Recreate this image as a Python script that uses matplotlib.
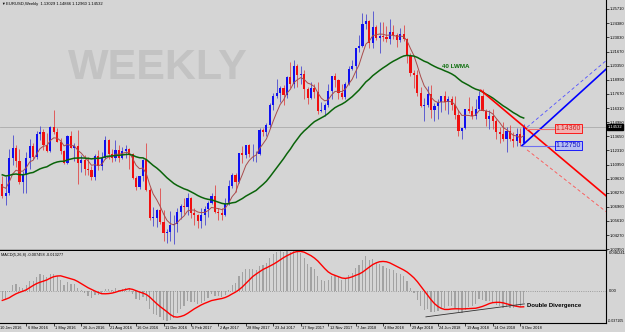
import numpy as np
import pandas as pd
import matplotlib
matplotlib.use('Agg')
import matplotlib.pyplot as plt
from matplotlib.transforms import blended_transform_factory

plt.rcParams['font.family'] = ['Liberation Sans', 'DejaVu Sans']

# EURUSD weekly bars, week closing 22 Jan 2016 ... 21 Dec 2018
# 40 earlier weekly closes (not drawn) so the indicators are warmed up
warmup_closes = [
    1.0808, 1.0873, 1.1198, 1.1199, 1.1448, 1.1015, 1.0987, 1.1110, 1.1265, 1.1350,
    1.1165, 1.1106, 1.1162, 1.0830, 1.0980, 1.0985, 1.0970, 1.1105, 1.1385, 1.1185,
    1.1150, 1.1340, 1.1295, 1.1195, 1.1210, 1.1360, 1.1350, 1.1015, 1.1005, 1.0740,
    1.0770, 1.0645, 1.0590, 1.0885, 1.0990, 1.0865, 1.0965, 1.0860, 1.0920, 1.0915]

closes = [
    # 2016
    1.0795, 1.0830, 1.1155, 1.1255, 1.1130, 1.0930, 1.1005, 1.1155, 1.1270, 1.1165,
    1.1390, 1.1400, 1.1285, 1.1225, 1.1455, 1.1405, 1.1310, 1.1220, 1.1115, 1.1365,
    1.1255, 1.1275, 1.1115, 1.1135, 1.1050, 1.1040, 1.0975, 1.1175, 1.1085, 1.1160,
    1.1325, 1.1200, 1.1155, 1.1235, 1.1155, 1.1225, 1.1240, 1.1200, 1.0970, 1.0880,
    1.0985, 1.1140, 1.0850, 1.0590, 1.0590, 1.0665, 1.0555, 1.0450, 1.0455, 1.0520,
    # 2017
    1.0530, 1.0645, 1.0705, 1.0695, 1.0780, 1.0640, 1.0615, 1.0560, 1.0620, 1.0670,
    1.0735, 1.0800, 1.0650, 1.0640, 1.0615, 1.0725, 1.0895, 1.0995, 1.0930, 1.1205,
    1.1185, 1.1280, 1.1195, 1.1195, 1.1195, 1.1425, 1.1400, 1.1470, 1.1665, 1.1750,
    1.1775, 1.1820, 1.1760, 1.1925, 1.1860, 1.2035, 1.1945, 1.1950, 1.1815, 1.1730,
    1.1820, 1.1785, 1.1605, 1.1610, 1.1665, 1.1790, 1.1935, 1.1895, 1.1770, 1.1740,
    1.1860, 1.2005,
    # 2018
    1.2030, 1.2200, 1.2220, 1.2425, 1.2460, 1.2250, 1.2405, 1.2295, 1.2315, 1.2310,
    1.2290, 1.2355, 1.2320, 1.2280, 1.2330, 1.2290, 1.2130, 1.1960, 1.1945, 1.1770,
    1.1655, 1.1660, 1.1765, 1.1610, 1.1655, 1.1685, 1.1745, 1.1685, 1.1720, 1.1660,
    1.1570, 1.1410, 1.1440, 1.1620, 1.1600, 1.1555, 1.1625, 1.1745, 1.1605, 1.1525,
    1.1560, 1.1510, 1.1400, 1.1390, 1.1335, 1.1415, 1.1340, 1.1315, 1.1385, 1.13029,
    1.14532]

highs = [
    1.0986, 1.0985, 1.1245, 1.1376, 1.1280, 1.1245, 1.1030, 1.1218, 1.1342, 1.1296,
    1.1410, 1.1465, 1.1435, 1.1398, 1.1462, 1.1616, 1.1445, 1.1348, 1.1234, 1.1375,
    1.1415, 1.1298, 1.1428, 1.1188, 1.1185, 1.1165, 1.1080, 1.1198, 1.1234, 1.1212,
    1.1366, 1.1342, 1.1240, 1.1327, 1.1283, 1.1258, 1.1280, 1.1250, 1.1210, 1.0985,
    1.0990, 1.1145, 1.1300, 1.0870, 1.0690, 1.0675, 1.0875, 1.0667, 1.0486, 1.0655,
    1.0620, 1.0685, 1.0720, 1.0775, 1.0830, 1.0790, 1.0680, 1.0630, 1.0680, 1.0700,
    1.0750, 1.0825, 1.0905, 1.0685, 1.0680, 1.0780, 1.0950, 1.1020, 1.1020, 1.1210,
    1.1270, 1.1285, 1.1295, 1.1295, 1.1220, 1.1445, 1.1445, 1.1490, 1.1680, 1.1775,
    1.1910, 1.1845, 1.1850, 1.1940, 1.2070, 1.2090, 1.2045, 1.2030, 1.1990, 1.1830,
    1.1880, 1.1860, 1.1880, 1.1690, 1.1680, 1.1860, 1.1940, 1.1960, 1.1905, 1.1860,
    1.1880, 1.2030,
    1.2090, 1.2205, 1.2325, 1.2537, 1.2520, 1.2470, 1.2555, 1.2415, 1.2445, 1.2445,
    1.2410, 1.2475, 1.2415, 1.2345, 1.2395, 1.2415, 1.2300, 1.2150, 1.1995, 1.1995,
    1.1830, 1.1725, 1.1840, 1.1850, 1.1680, 1.1720, 1.1750, 1.1790, 1.1745, 1.1750,
    1.1745, 1.1610, 1.1445, 1.1625, 1.1735, 1.1650, 1.1720, 1.1790, 1.1815, 1.1625,
    1.1610, 1.1620, 1.1530, 1.1455, 1.1500, 1.1450, 1.1472, 1.1400, 1.1442, 1.1442,
    1.14846]

lows = [
    1.0778, 1.0710, 1.0810, 1.1090, 1.1068, 1.0913, 1.0825, 1.0822, 1.1058, 1.1144,
    1.1146, 1.1330, 1.1235, 1.1215, 1.1216, 1.1384, 1.1310, 1.1200, 1.1097, 1.1098,
    1.1250, 1.1130, 1.0912, 1.1028, 1.1000, 1.1000, 1.0952, 1.0950, 1.1045, 1.1045,
    1.1150, 1.1150, 1.1120, 1.1130, 1.1120, 1.1150, 1.1160, 1.1050, 1.0957, 1.0858,
    1.0860, 1.0940, 1.0845, 1.0570, 1.0517, 1.0505, 1.0530, 1.0367, 1.0352, 1.0375,
    1.0340, 1.0455, 1.0580, 1.0625, 1.0620, 1.0590, 1.0520, 1.0495, 1.0495, 1.0525,
    1.0600, 1.0720, 1.0640, 1.0570, 1.0570, 1.0605, 1.0710, 1.0870, 1.0840, 1.0920,
    1.1110, 1.1160, 1.1170, 1.1130, 1.1120, 1.1190, 1.1370, 1.1370, 1.1440, 1.1610,
    1.1730, 1.1690, 1.1660, 1.1730, 1.1820, 1.1825, 1.1835, 1.1860, 1.1715, 1.1670,
    1.1720, 1.1730, 1.1575, 1.1590, 1.1555, 1.1645, 1.1715, 1.1830, 1.1715, 1.1720,
    1.1720, 1.1850,
    1.1995, 1.1915, 1.2165, 1.2215, 1.2385, 1.2205, 1.2205, 1.2275, 1.2155, 1.2270,
    1.2255, 1.2240, 1.2285, 1.2215, 1.2255, 1.2270, 1.2055, 1.1940, 1.1820, 1.1750,
    1.1645, 1.1510, 1.1640, 1.1540, 1.1510, 1.1525, 1.1590, 1.1615, 1.1575, 1.1615,
    1.1530, 1.1365, 1.1335, 1.1430, 1.1585, 1.1525, 1.1530, 1.1610, 1.1600, 1.1460,
    1.1430, 1.1430, 1.1335, 1.1300, 1.1315, 1.1215, 1.1320, 1.1265, 1.1270, 1.1270,
    1.12960]

# time axis labels: (bar index, text)
date_idx = [-1, 7, 15, 23, 31, 39, 47, 55, 63, 71, 79, 87, 95, 103, 111, 119, 127, 135, 143, 151]
date_labels = ['10 Jan 2016', '6 Mar 2016', '1 May 2016', '26 Jun 2016', '21 Aug 2016',
               '16 Oct 2016', '11 Dec 2016', '5 Feb 2017', '2 Apr 2017', '28 May 2017',
               '23 Jul 2017', '17 Sep 2017', '12 Nov 2017', '7 Jan 2018', '4 Mar 2018',
               '29 Apr 2018', '24 Jun 2018', '19 Aug 2018', '14 Oct 2018', '9 Dec 2018']

price_ticks = ['1.25710', '1.24380', '1.23030', '1.21670', '1.20350', '1.18990', '1.17670',
               '1.16310', '1.14980', '1.13650', '1.12310', '1.10950', '1.09630', '1.08270',
               '1.06960', '1.05610', '1.04270', '1.02950']
last_price = 1.14532
macd_top, macd_bottom = 0.046241, -0.037105

# drawn objects (bar index, price)
red_trend_x, red_trend_y = [139.5, 176.0], [1.1800, 1.0800]
red_dash_x, red_dash_y = [153.0, 176.0], [1.1235, 1.0650]
blue_trend_x, blue_trend_y = [151.5, 176.0], [1.1275, 1.2000]
blue_dash_x, blue_dash_y = [153.0, 176.0], [1.1450, 1.2080]
red_level, blue_level = 1.14360, 1.12750
div_x, div_y = [123.5, 152.2], [-0.0300, -0.0150]


def lwma(values, period):
    w = np.arange(1, period + 1)
    out = np.full(len(values), np.nan)
    for i in range(period - 1, len(values)):
        out[i] = np.dot(values[i - period + 1:i + 1], w) / w.sum()
    return out


nw = len(warmup_closes)
all_c = np.array(warmup_closes + closes)
ma40 = lwma(all_c, 40)[nw:]
ma8 = lwma(all_c, 8)[nw:]
s = pd.Series(all_c)
macd = s.ewm(span=5, adjust=False).mean() - s.ewm(span=26, adjust=False).mean()
signal = macd.rolling(8).mean()
macd = macd.values[nw:]
signal = signal.values[nw:]

c = np.array(closes)
o = np.array([warmup_closes[-1]] + closes[:-1])
h = np.maximum(np.array(highs), np.maximum(o, c))
l = np.minimum(np.array(lows), np.minimum(o, c))
x = np.arange(len(c))
up = c >= o

bg = '#d5d5d5'
fig = plt.figure(figsize=(6.25, 3.32), dpi=100, facecolor=bg)
ax = fig.add_axes([0, 82 / 332, 606 / 625, 250 / 332], facecolor=bg)
axm = fig.add_axes([0, 9 / 332, 606 / 625, 72 / 332], facecolor=bg)

xlim = (-2.3 / 3.43, (606 - 2.3) / 3.43)

# ---- price panel
ax.text(0.112, 0.728, 'WEEKLY', transform=ax.transAxes, fontsize=31, fontweight='bold',
        color='#c3c3c3', va='center', ha='left', zorder=0)
ax.axhline(last_price, color='#ababab', lw=0.6, zorder=1)

ax.vlines(x, l, h, colors=np.where(up, '#4a4ad0', '#e04848'), lw=0.6, zorder=2)
ax.bar(x, np.maximum(np.abs(c - o), 0.0004), bottom=np.minimum(o, c), width=0.62,
       color=np.where(up, '#1010f0', '#f01010'), linewidth=0, zorder=3)
ax.plot(x, ma8, color='#a84c4c', lw=0.7, zorder=4)
ax.plot(x, ma40, color='#0a640a', lw=1.1, zorder=4)

ax.plot(red_trend_x, red_trend_y, color='#ff0000', lw=1.2, zorder=5)
ax.plot(red_dash_x, red_dash_y, color='#ff5050', lw=0.6, ls=(0, (4, 3)), zorder=5)
ax.plot(blue_trend_x, blue_trend_y, color='#0000ff', lw=1.2, zorder=5)
ax.plot(blue_dash_x, blue_dash_y, color='#5050ff', lw=0.6, ls=(0, (4, 3)), zorder=5)
ax.plot([153, 161.2], [red_level, red_level], color='#f07070', lw=0.8, zorder=5)
ax.plot([151.5, 161.2], [blue_level, blue_level], color='#7070f0', lw=0.8, zorder=5)
ax.text(161.3, red_level, f'{red_level:.5f}', fontsize=5, color='#d02020', va='center', ha='left',
        bbox=dict(boxstyle='square,pad=0.15', fc='#f2b2b2', ec='#ff0000', lw=0.6), zorder=6)
ax.text(161.3, blue_level, f'{blue_level:.5f}', fontsize=5, color='#1010c0', va='center', ha='left',
        bbox=dict(boxstyle='square,pad=0.15', fc='#b6bef2', ec='#0000ff', lw=0.6), zorder=6)
ax.text(128.2, 1.2021, '40 LWMA', fontsize=4.5, fontweight='bold', color='#0a6e0a',
        va='center', ha='left', zorder=6)

ax.text(0.002, 0.985, '\u25bc', transform=ax.transAxes, fontsize=2.6, va='center', ha='left')
ax.text(6 / 606, 0.985, 'EURUSD,Weekly  1.13029 1.14846 1.12960 1.14532',
        transform=ax.transAxes, fontsize=3, va='center', ha='left')

ax.set_xlim(*xlim)
ax.set_ylim(1.02856, 1.26563)
ax.yaxis.tick_right()
ax.set_yticks([float(t) for t in price_ticks])
ax.set_yticklabels(price_ticks)
ax.tick_params(axis='y', length=2, width=0.5, labelsize=3, pad=1)
ax.set_xticks([])
tr = blended_transform_factory(ax.transAxes, ax.transData)
ax.text(1.003, last_price, f'{last_price:.5f}', transform=tr, fontsize=3, color='white',
        va='center', ha='left', bbox=dict(boxstyle='square,pad=0.2', fc='black', ec='black'))
for side in ['top', 'left']:
    ax.spines[side].set_visible(False)
ax.spines['right'].set_linewidth(0.8)
ax.spines['bottom'].set_linewidth(1.0)

# ---- MACD panel
axm.axhline(0, color='#8a8a8a', lw=0.6, ls=':')
axm.bar(x, macd, width=0.35, color='#a2a2a2', linewidth=0)
axm.plot(x, signal, color='#ff0000', lw=1.0)
axm.plot(div_x, div_y, color='#303030', lw=0.6)
axm.text(153, -0.0171, 'Double Divergence', fontsize=4.3, fontweight='bold', color='black',
         va='center', ha='left')
axm.text(0.002, 0.97, 'MACD(5,26,8) -0.007458 -0.013277', transform=axm.transAxes,
         fontsize=2.8, va='top', ha='left')

axm.set_xlim(*xlim)
axm.set_ylim(macd_bottom, macd_top)
axm.set_yticks([])
trm = blended_transform_factory(axm.transAxes, axm.transData)
axm.text(1.004, macd_top, f'{macd_top:.6f}', transform=trm, fontsize=3, va='top', ha='left')
axm.text(1.004, 0.0, '0.00', transform=trm, fontsize=3, va='center', ha='left')
axm.text(1.003, macd_bottom, f'{macd_bottom:.6f}', transform=trm, fontsize=2.6,
         va='bottom', ha='left')
axm.set_xticks([i for i in date_idx if i >= xlim[0]])
axm.set_xticklabels([])
axm.tick_params(axis='x', length=2, width=0.5)
trx = blended_transform_factory(axm.transData, axm.transAxes)
for i, lab in zip(date_idx, date_labels):
    axm.text(i + 0.4, -0.035, lab, transform=trx, fontsize=2.8, va='top', ha='left')
for side in ['top', 'left']:
    axm.spines[side].set_visible(False)
axm.spines['right'].set_linewidth(0.8)
axm.spines['bottom'].set_linewidth(0.8)

fig.savefig('out.png', dpi=100, facecolor=bg)
